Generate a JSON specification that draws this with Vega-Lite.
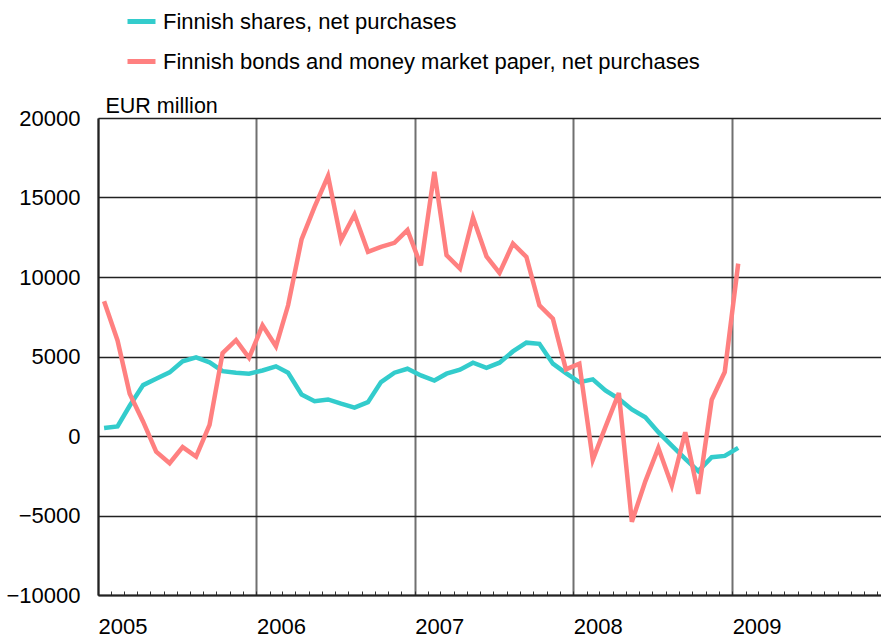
{
  "$schema": "https://vega.github.io/schema/vega-lite/v6.json",
  "autosize": {"type": "none"},
  "padding": {"left": 98, "top": 118, "right": 0, "bottom": 46},
  "width": 783,
  "height": 477,
  "background": "white",
  "config": {"view": {"stroke": null}, "font": "Liberation Sans"},
  "data": {"values": [
    {"date": "2005-01-15", "series": "Finnish shares, net purchases", "value": 500},
    {"date": "2005-02-15", "series": "Finnish shares, net purchases", "value": 600},
    {"date": "2005-03-15", "series": "Finnish shares, net purchases", "value": 1900},
    {"date": "2005-04-15", "series": "Finnish shares, net purchases", "value": 3200},
    {"date": "2005-05-15", "series": "Finnish shares, net purchases", "value": 3600},
    {"date": "2005-06-15", "series": "Finnish shares, net purchases", "value": 4000},
    {"date": "2005-07-15", "series": "Finnish shares, net purchases", "value": 4700},
    {"date": "2005-08-15", "series": "Finnish shares, net purchases", "value": 4950},
    {"date": "2005-09-15", "series": "Finnish shares, net purchases", "value": 4630},
    {"date": "2005-10-15", "series": "Finnish shares, net purchases", "value": 4080},
    {"date": "2005-11-15", "series": "Finnish shares, net purchases", "value": 3980},
    {"date": "2005-12-15", "series": "Finnish shares, net purchases", "value": 3920},
    {"date": "2006-01-15", "series": "Finnish shares, net purchases", "value": 4120},
    {"date": "2006-02-15", "series": "Finnish shares, net purchases", "value": 4380},
    {"date": "2006-03-15", "series": "Finnish shares, net purchases", "value": 3980},
    {"date": "2006-04-15", "series": "Finnish shares, net purchases", "value": 2610},
    {"date": "2006-05-15", "series": "Finnish shares, net purchases", "value": 2190},
    {"date": "2006-06-15", "series": "Finnish shares, net purchases", "value": 2300},
    {"date": "2006-07-15", "series": "Finnish shares, net purchases", "value": 2030},
    {"date": "2006-08-15", "series": "Finnish shares, net purchases", "value": 1780},
    {"date": "2006-09-15", "series": "Finnish shares, net purchases", "value": 2130},
    {"date": "2006-10-15", "series": "Finnish shares, net purchases", "value": 3390},
    {"date": "2006-11-15", "series": "Finnish shares, net purchases", "value": 3980},
    {"date": "2006-12-15", "series": "Finnish shares, net purchases", "value": 4230},
    {"date": "2007-01-15", "series": "Finnish shares, net purchases", "value": 3810},
    {"date": "2007-02-15", "series": "Finnish shares, net purchases", "value": 3490},
    {"date": "2007-03-15", "series": "Finnish shares, net purchases", "value": 3920},
    {"date": "2007-04-15", "series": "Finnish shares, net purchases", "value": 4170},
    {"date": "2007-05-15", "series": "Finnish shares, net purchases", "value": 4610},
    {"date": "2007-06-15", "series": "Finnish shares, net purchases", "value": 4290},
    {"date": "2007-07-15", "series": "Finnish shares, net purchases", "value": 4610},
    {"date": "2007-08-15", "series": "Finnish shares, net purchases", "value": 5320},
    {"date": "2007-09-15", "series": "Finnish shares, net purchases", "value": 5870},
    {"date": "2007-10-15", "series": "Finnish shares, net purchases", "value": 5800},
    {"date": "2007-11-15", "series": "Finnish shares, net purchases", "value": 4550},
    {"date": "2007-12-15", "series": "Finnish shares, net purchases", "value": 3960},
    {"date": "2008-01-15", "series": "Finnish shares, net purchases", "value": 3390},
    {"date": "2008-02-15", "series": "Finnish shares, net purchases", "value": 3560},
    {"date": "2008-03-15", "series": "Finnish shares, net purchases", "value": 2870},
    {"date": "2008-04-15", "series": "Finnish shares, net purchases", "value": 2340},
    {"date": "2008-05-15", "series": "Finnish shares, net purchases", "value": 1670},
    {"date": "2008-06-15", "series": "Finnish shares, net purchases", "value": 1180},
    {"date": "2008-07-15", "series": "Finnish shares, net purchases", "value": 240},
    {"date": "2008-08-15", "series": "Finnish shares, net purchases", "value": -600},
    {"date": "2008-09-15", "series": "Finnish shares, net purchases", "value": -1440},
    {"date": "2008-10-15", "series": "Finnish shares, net purchases", "value": -2210},
    {"date": "2008-11-15", "series": "Finnish shares, net purchases", "value": -1330},
    {"date": "2008-12-15", "series": "Finnish shares, net purchases", "value": -1250},
    {"date": "2009-01-15", "series": "Finnish shares, net purchases", "value": -745},
    {"date": "2005-01-15", "series": "Finnish bonds and money market paper, net purchases", "value": 8470},
    {"date": "2005-02-15", "series": "Finnish bonds and money market paper, net purchases", "value": 6010},
    {"date": "2005-03-15", "series": "Finnish bonds and money market paper, net purchases", "value": 2660},
    {"date": "2005-04-15", "series": "Finnish bonds and money market paper, net purchases", "value": 900},
    {"date": "2005-05-15", "series": "Finnish bonds and money market paper, net purchases", "value": -980},
    {"date": "2005-06-15", "series": "Finnish bonds and money market paper, net purchases", "value": -1710},
    {"date": "2005-07-15", "series": "Finnish bonds and money market paper, net purchases", "value": -700},
    {"date": "2005-08-15", "series": "Finnish bonds and money market paper, net purchases", "value": -1290},
    {"date": "2005-09-15", "series": "Finnish bonds and money market paper, net purchases", "value": 700},
    {"date": "2005-10-15", "series": "Finnish bonds and money market paper, net purchases", "value": 5220},
    {"date": "2005-11-15", "series": "Finnish bonds and money market paper, net purchases", "value": 6030},
    {"date": "2005-12-15", "series": "Finnish bonds and money market paper, net purchases", "value": 4920},
    {"date": "2006-01-15", "series": "Finnish bonds and money market paper, net purchases", "value": 6960},
    {"date": "2006-02-15", "series": "Finnish bonds and money market paper, net purchases", "value": 5640},
    {"date": "2006-03-15", "series": "Finnish bonds and money market paper, net purchases", "value": 8220},
    {"date": "2006-04-15", "series": "Finnish bonds and money market paper, net purchases", "value": 12360},
    {"date": "2006-05-15", "series": "Finnish bonds and money market paper, net purchases", "value": 14410},
    {"date": "2006-06-15", "series": "Finnish bonds and money market paper, net purchases", "value": 16350},
    {"date": "2006-07-15", "series": "Finnish bonds and money market paper, net purchases", "value": 12320},
    {"date": "2006-08-15", "series": "Finnish bonds and money market paper, net purchases", "value": 13930},
    {"date": "2006-09-15", "series": "Finnish bonds and money market paper, net purchases", "value": 11580},
    {"date": "2006-10-15", "series": "Finnish bonds and money market paper, net purchases", "value": 11900},
    {"date": "2006-11-15", "series": "Finnish bonds and money market paper, net purchases", "value": 12150},
    {"date": "2006-12-15", "series": "Finnish bonds and money market paper, net purchases", "value": 12950},
    {"date": "2007-01-15", "series": "Finnish bonds and money market paper, net purchases", "value": 10720},
    {"date": "2007-02-15", "series": "Finnish bonds and money market paper, net purchases", "value": 16620},
    {"date": "2007-03-15", "series": "Finnish bonds and money market paper, net purchases", "value": 11370},
    {"date": "2007-04-15", "series": "Finnish bonds and money market paper, net purchases", "value": 10530},
    {"date": "2007-05-15", "series": "Finnish bonds and money market paper, net purchases", "value": 13740},
    {"date": "2007-06-15", "series": "Finnish bonds and money market paper, net purchases", "value": 11300},
    {"date": "2007-07-15", "series": "Finnish bonds and money market paper, net purchases", "value": 10260},
    {"date": "2007-08-15", "series": "Finnish bonds and money market paper, net purchases", "value": 12100},
    {"date": "2007-09-15", "series": "Finnish bonds and money market paper, net purchases", "value": 11260},
    {"date": "2007-10-15", "series": "Finnish bonds and money market paper, net purchases", "value": 8220},
    {"date": "2007-11-15", "series": "Finnish bonds and money market paper, net purchases", "value": 7380},
    {"date": "2007-12-15", "series": "Finnish bonds and money market paper, net purchases", "value": 4190},
    {"date": "2008-01-15", "series": "Finnish bonds and money market paper, net purchases", "value": 4550},
    {"date": "2008-02-15", "series": "Finnish bonds and money market paper, net purchases", "value": -1500},
    {"date": "2008-03-15", "series": "Finnish bonds and money market paper, net purchases", "value": 560},
    {"date": "2008-04-15", "series": "Finnish bonds and money market paper, net purchases", "value": 2700},
    {"date": "2008-05-15", "series": "Finnish bonds and money market paper, net purchases", "value": -5390},
    {"date": "2008-06-15", "series": "Finnish bonds and money market paper, net purchases", "value": -2850},
    {"date": "2008-07-15", "series": "Finnish bonds and money market paper, net purchases", "value": -745},
    {"date": "2008-08-15", "series": "Finnish bonds and money market paper, net purchases", "value": -3120},
    {"date": "2008-09-15", "series": "Finnish bonds and money market paper, net purchases", "value": 240},
    {"date": "2008-10-15", "series": "Finnish bonds and money market paper, net purchases", "value": -3640},
    {"date": "2008-11-15", "series": "Finnish bonds and money market paper, net purchases", "value": 2280},
    {"date": "2008-12-15", "series": "Finnish bonds and money market paper, net purchases", "value": 4020},
    {"date": "2009-01-15", "series": "Finnish bonds and money market paper, net purchases", "value": 10840}
  ]},
  "mark": {"type": "line", "strokeWidth": 4.5, "strokeJoin": "miter", "strokeCap": "butt"},
  "encoding": {
    "x": {
      "field": "date",
      "type": "temporal",
      "scale": {"type": "utc", "domain": ["2005-01-01", "2009-12-10"], "nice": false},
      "axis": {
        "title": null,
        "tickCount": {"interval": "month", "step": 1},
        "labelExpr": "utcmonth(datum.value) == 0 ? utcFormat(datum.value, '%Y') : ''",
        "labelAlign": "left",
        "labelBaseline": "alphabetic",
        "labelPadding": 42,
        "labelFontSize": 22,
        "labelColor": "black",
        "labelFont": "Liberation Sans",
        "labelOverlap": false,
        "labelFlush": false,
        "tickSize": -4,
        "tickColor": "#333",
        "tickWidth": 1,
        "domainColor": "#222",
        "domainWidth": 2,
        "grid": true,
        "gridColor": "#707070",
        "gridWidth": 2,
        "gridOpacity": {"condition": {"test": "utcmonth(datum.value) == 0", "value": 1}, "value": 0}
      }
    },
    "y": {
      "field": "value",
      "type": "quantitative",
      "scale": {"domain": [-10000, 20000], "nice": false},
      "axis": {
        "values": [-10000, -5000, 0, 5000, 10000, 15000, 20000],
        "format": "d",
        "title": "EUR million",
        "titleAngle": 0,
        "titleAlign": "left",
        "titleBaseline": "alphabetic",
        "titleX": 7,
        "titleY": -6,
        "titleFont": "Liberation Sans",
        "titleFontSize": 21.5,
        "titleFontWeight": "normal",
        "titleColor": "black",
        "labelFontSize": 22,
        "labelColor": "black",
        "labelPadding": 18,
        "ticks": false,
        "domainColor": "#222",
        "domainWidth": 2,
        "gridColor": "#222",
        "gridWidth": 1.5
      }
    },
    "color": {
      "field": "series",
      "type": "nominal",
      "scale": {
        "domain": ["Finnish shares, net purchases", "Finnish bonds and money market paper, net purchases"],
        "range": ["#33CCCC", "#FF8080"]
      },
      "legend": {
        "title": null,
        "orient": "none",
        "legendX": 27,
        "legendY": -113,
        "direction": "vertical",
        "padding": 0,
        "symbolType": "stroke",
        "symbolSize": 784,
        "symbolStrokeWidth": 5,
        "labelFont": "Liberation Sans",
        "labelFontSize": 22,
        "labelColor": "black",
        "labelOffset": 5,
        "labelLimit": 700,
        "rowPadding": 12
      }
    }
  }
}
